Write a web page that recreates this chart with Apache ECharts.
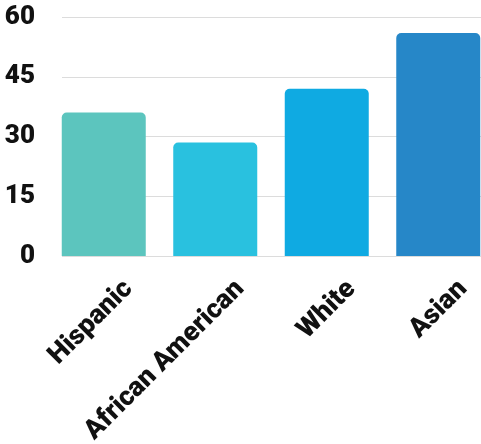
<!DOCTYPE html>
<html>
<head>
<meta charset="utf-8">
<script src="https://cdn.jsdelivr.net/npm/echarts@6/dist/echarts.min.js"></script>
<style>
  html, body { margin: 0; padding: 0; background: #ffffff; }
  #chart { width: 481px; height: 444px; }
</style>
</head>
<body>
<div id="chart"></div>
<script>
// Groups shown along the x axis
const categories = ['Hispanic', 'African American', 'White', 'Asian'];
// Value for each group
const values = [36, 28.5, 42, 56];
// Fill colour for each bar
const barColors = ['#5cc5be', '#29c1df', '#0faae2', '#2687c8'];
// Value axis ticks
const yMin = 0;
const yMax = 60;
const yStep = 15;

const chart = echarts.init(document.getElementById('chart'), null, { renderer: 'canvas' });

const plotTop = 17;
const plotBottom = 188;
const labelShift = 25;

chart.setOption({
  animation: false,
  backgroundColor: '#ffffff',
  grid: [
    // gridlines and value labels
    { left: 62, right: 0, top: plotTop, bottom: plotBottom, outerBoundsMode: 'none' },
    // bars
    { left: 48, width: 446, top: plotTop, bottom: plotBottom, outerBoundsMode: 'none' },
    // category labels
    { left: 48 + labelShift, width: 446, top: plotTop, bottom: plotBottom, outerBoundsMode: 'none' }
  ],
  xAxis: [
    { gridIndex: 0, type: 'category', data: categories, show: false },
    { gridIndex: 1, type: 'category', data: categories, show: false },
    {
      gridIndex: 2, type: 'category', data: categories,
      axisLine: { show: false }, axisTick: { show: false },
      axisLabel: {
        interval: 0, rotate: 45, margin: 29,
        color: '#111111',
        fontFamily: 'Roboto, "Liberation Sans", sans-serif',
        fontWeight: 900, fontSize: 27
      }
    }
  ],
  yAxis: [
    {
      gridIndex: 0, type: 'value', min: yMin, max: yMax, interval: yStep,
      axisLine: { show: false }, axisTick: { show: false },
      splitLine: { lineStyle: { color: '#dcdcdc', width: 1 } },
      axisLabel: {
        margin: 27,
        color: '#111111',
        fontFamily: 'Roboto, "Liberation Sans", sans-serif',
        fontWeight: 900, fontSize: 26
      }
    },
    { gridIndex: 1, type: 'value', min: yMin, max: yMax, interval: yStep, show: false, splitLine: { show: false } },
    { gridIndex: 2, type: 'value', min: yMin, max: yMax, interval: yStep, show: false, splitLine: { show: false } }
  ],
  series: [{
    type: 'bar',
    xAxisIndex: 1,
    yAxisIndex: 1,
    barWidth: 84,
    data: values.map((v, i) => ({
      value: v,
      itemStyle: { color: barColors[i], borderRadius: [5, 5, 0, 0] }
    }))
  }]
});
</script>
</body>
</html>
